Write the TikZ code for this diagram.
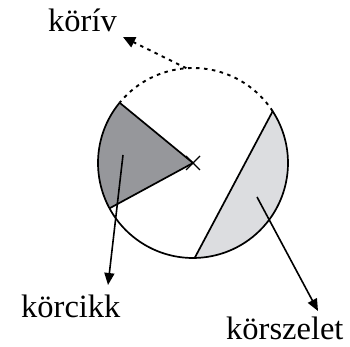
\documentclass[tikz,border=0pt]{standalone}
\usepackage{fontspec}
\setmainfont{Liberation Serif}
\usetikzlibrary{arrows.meta,calc}
\definecolor{sectorgray}{RGB}{150,151,155}
\definecolor{segmentgray}{RGB}{220,221,224}
\tikzset{
  lbl/.style={inner sep=0pt, anchor=base west, font=\fontsize{32.5}{32.5}\selectfont},
  pointer/.style={line width=1.6pt, -{Triangle[length=12pt,width=10pt]}},
  arcdots/.style={line width=1.9pt, dash pattern=on 3.5pt off 4.5pt}
}
\begin{document}
\begin{tikzpicture}[x=1pt, y=1pt]
            \useasboundingbox (0,0) rectangle (350,347);
            \coordinate (O) at (193,184);
            % korcikk and korszelet
            \fill[sectorgray] (O) -- ++(140.6:95) arc[start angle=140.6, end angle=208.5, radius=95] -- cycle;
            \fill[segmentgray] ($(O)+(-89:95)$) arc[start angle=-89, end angle=33, radius=95] -- cycle;
            \draw[line width=1.7pt] (O) ++(140.6:95) -- (O) -- ++(208.5:95);
            \draw[line width=1.7pt] ($(O)+(-89:95)$) -- ($(O)+(33:95)$);
            % circle: solid part and dotted arc
            \draw[line width=1.7pt] (O) ++(140.6:95) arc[start angle=140.6, end angle=393, radius=95];
            \draw[arcdots] (O) ++(33:95) arc[start angle=33, end angle=140.6, radius=95];
            \draw[line width=1.4pt] (O) ++(-7,-7) -- ++(14,14) (O) ++(-7,7) -- ++(14,-14);
            % labels
            \node[lbl] (koriv) at (48,315) {körív};
            \node[lbl] (korcikk) at (21,29) {körcikk};
            \node[lbl] (korszelet) at (226,7) {körszelet};
            \coordinate (kivfrom) at ($(O)+(94:95)$);
            \coordinate (kcikfrom) at (123,192);
            \coordinate (kszelfrom) at (257,150);
            \coordinate (kivtip) at (123,310);
            \coordinate (kciktip) at (108,62);
            \coordinate (kszeltip) at (318,36);
            \draw[arcdots, -{Triangle[length=12pt,width=11pt]}] (kivfrom) -- (kivtip);
            \draw[pointer] (kcikfrom) -- (kciktip);
            \draw[pointer] (kszelfrom) -- (kszeltip);
\end{tikzpicture}
\end{document}
